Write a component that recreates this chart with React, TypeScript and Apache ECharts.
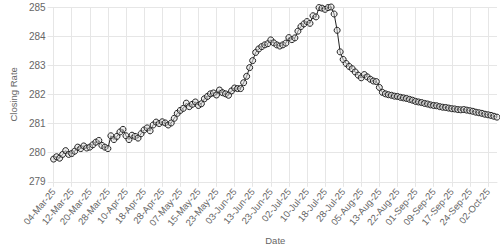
import React, { useEffect, useRef } from "react";
import * as echarts from "echarts";

const dates: string[] = [
  "04-Mar-25","05-Mar-25","06-Mar-25","07-Mar-25","10-Mar-25","11-Mar-25","12-Mar-25","13-Mar-25","14-Mar-25","17-Mar-25",
  "18-Mar-25","19-Mar-25","20-Mar-25","21-Mar-25","24-Mar-25","25-Mar-25","26-Mar-25","27-Mar-25","28-Mar-25",
  "03-Apr-25","04-Apr-25","07-Apr-25","08-Apr-25","09-Apr-25","10-Apr-25","11-Apr-25","14-Apr-25","15-Apr-25","16-Apr-25",
  "17-Apr-25","18-Apr-25","21-Apr-25","22-Apr-25","23-Apr-25","24-Apr-25","25-Apr-25","28-Apr-25","29-Apr-25","30-Apr-25",
  "02-May-25","05-May-25","06-May-25","07-May-25","08-May-25","09-May-25","12-May-25","13-May-25","14-May-25","15-May-25",
  "16-May-25","19-May-25","20-May-25","21-May-25","22-May-25","23-May-25","26-May-25","27-May-25","29-May-25","30-May-25",
  "02-Jun-25","03-Jun-25","04-Jun-25","05-Jun-25","10-Jun-25","11-Jun-25","12-Jun-25","13-Jun-25","16-Jun-25","17-Jun-25",
  "18-Jun-25","19-Jun-25","20-Jun-25","23-Jun-25","24-Jun-25","25-Jun-25","26-Jun-25","27-Jun-25","30-Jun-25",
  "02-Jul-25","03-Jul-25","04-Jul-25","07-Jul-25","08-Jul-25","09-Jul-25","10-Jul-25","11-Jul-25","14-Jul-25","15-Jul-25",
  "16-Jul-25","17-Jul-25","18-Jul-25","21-Jul-25","22-Jul-25","23-Jul-25","24-Jul-25","25-Jul-25","28-Jul-25","29-Jul-25",
  "30-Jul-25","31-Jul-25","01-Aug-25","04-Aug-25","05-Aug-25","06-Aug-25","07-Aug-25","08-Aug-25","11-Aug-25","12-Aug-25",
  "13-Aug-25","15-Aug-25","18-Aug-25","19-Aug-25","20-Aug-25","21-Aug-25","22-Aug-25","25-Aug-25","26-Aug-25","27-Aug-25",
  "28-Aug-25","29-Aug-25","01-Sep-25","02-Sep-25","03-Sep-25","04-Sep-25","05-Sep-25","08-Sep-25","09-Sep-25","10-Sep-25",
  "11-Sep-25","12-Sep-25","15-Sep-25","16-Sep-25","17-Sep-25","18-Sep-25","19-Sep-25","20-Sep-25","22-Sep-25","23-Sep-25",
  "24-Sep-25","25-Sep-25","26-Sep-25","29-Sep-25","30-Sep-25","01-Oct-25","02-Oct-25","03-Oct-25","06-Oct-25","07-Oct-25",
];

const closingRate: number[] = [
  279.78, 279.86, 279.81, 279.94, 280.07, 279.94, 279.97, 280.05, 280.19, 280.14,
  280.23, 280.16, 280.19, 280.27, 280.36, 280.42, 280.25, 280.19, 280.14, 280.58,
  280.45, 280.56, 280.71, 280.80, 280.58, 280.45, 280.60, 280.56, 280.50, 280.65,
  280.78, 280.85, 280.75, 280.95, 281.05, 281.00, 281.06, 281.02, 280.95, 281.02,
  281.18, 281.35, 281.45, 281.52, 281.70, 281.58, 281.66, 281.74, 281.62, 281.68,
  281.85, 281.93, 282.02, 282.05, 281.98, 282.15, 282.06, 282.02, 281.97, 282.12,
  282.22, 282.20, 282.20, 282.40, 282.62, 282.92, 283.16, 283.44, 283.56, 283.64,
  283.70, 283.74, 283.87, 283.77, 283.70, 283.66, 283.70, 283.76, 283.95, 283.88,
  283.94, 284.17, 284.33, 284.42, 284.50, 284.44, 284.70, 284.66, 284.98, 284.96,
  284.92, 284.98, 285.00, 284.76, 284.20, 283.46, 283.20, 283.06, 282.96, 282.88,
  282.77, 282.66, 282.57, 282.68, 282.60, 282.52, 282.46, 282.44, 282.24, 282.07,
  282.02, 281.99, 281.97, 281.94, 281.93, 281.90, 281.88, 281.86, 281.83, 281.80,
  281.76, 281.74, 281.72, 281.69, 281.67, 281.64, 281.62, 281.61, 281.58, 281.56,
  281.55, 281.53, 281.51, 281.50, 281.48, 281.47, 281.48, 281.46, 281.44, 281.42,
  281.39, 281.37, 281.35, 281.32, 281.30, 281.28, 281.25, 281.22,
];

const yMin = 279;
const yMax = 285;

export default function App() {
  const ref = useRef<HTMLDivElement>(null);
  useEffect(() => {
    if (!ref.current) return;
    const chart = echarts.init(ref.current, null, { renderer: "svg" });
    const grid = "#e6e6e6";
    const txt = "#666";
    const font = "Liberation Sans, Arial, Helvetica, sans-serif";
    chart.setOption({
      animation: false,
      backgroundColor: "#fff",
      grid: { left: 39, right: 3, top: 7, bottom: 62, containLabel: false },
      xAxis: {
        type: "category",
        data: dates,
        boundaryGap: false,
        name: "Date",
        nameLocation: "middle",
        nameGap: 50,
        nameTextStyle: { color: txt, fontSize: 9.5, fontFamily: font },
        axisLine: { show: true, lineStyle: { color: grid } },
        axisTick: { show: true, interval: 5, length: 5, lineStyle: { color: grid } },
        axisLabel: {
          interval: 5,
          rotate: 50,
          fontSize: 9.5,
          color: txt,
          fontFamily: font,
          margin: 8,
        },
        splitLine: { show: true, interval: 5, lineStyle: { color: grid, width: 1 } },
      },
      yAxis: {
        type: "value",
        min: yMin,
        max: yMax,
        interval: 1,
        name: "Closing Rate",
        nameLocation: "middle",
        nameGap: 29,
        nameTextStyle: { color: txt, fontSize: 9.5, fontFamily: font },
        axisLine: { show: false },
        axisTick: { show: true, length: 6, lineStyle: { color: grid } },
        axisLabel: { fontSize: 10, color: txt, fontFamily: font, margin: 8 },
        splitLine: { show: true, lineStyle: { color: grid, width: 1 } },
      },
      series: [
        {
          type: "line",
          data: closingRate,
          symbol: "circle",
          symbolSize: 6,
          showAllSymbol: true,
          lineStyle: { color: "#222", width: 1 },
          itemStyle: { color: "rgba(220,220,220,0.5)", borderColor: "#222", borderWidth: 1 },
        },
      ],
    });
    return () => chart.dispose();
  }, []);
  return <div ref={ref} style={{ width: 500, height: 250, position: "absolute", left: 0, top: 0 }} />;
}
